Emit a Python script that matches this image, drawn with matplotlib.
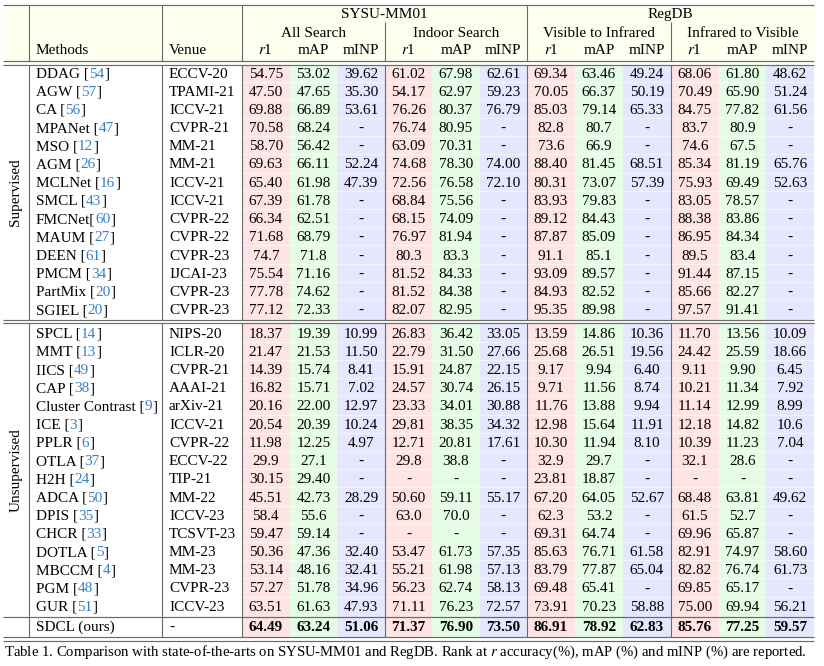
import matplotlib
matplotlib.use('Agg')
import matplotlib.pyplot as plt
from matplotlib.patches import Rectangle

plt.rcParams['font.family'] = ['Liberation Serif', 'DejaVu Serif']
plt.rcParams['mathtext.fontset'] = 'stix'

# ---------------- data ----------------
datasets = ["SYSU-MM01", "RegDB"]
settings = ["All Search", "Indoor Search", "Visible to Infrared", "Infrared to Visible"]
metrics = ["$r$1", "mAP", "mINP"]
groups = ["Supervised", "Unsupervised"]

sup_methods = ["DDAG", "AGW", "CA", "MPANet", "MSO", "AGM", "MCLNet", "SMCL",
               "FMCNet", "MAUM", "DEEN", "PMCM", "PartMix", "SGIEL"]
sup_refs = ["54", "57", "56", "47", "12", "26", "16", "43", "60", "27", "61", "34", "20", "20"]
sup_venues = ["ECCV-20", "TPAMI-21", "ICCV-21", "CVPR-21", "MM-21", "MM-21", "ICCV-21",
              "ICCV-21", "CVPR-22", "CVPR-22", "CVPR-23", "IJCAI-23", "CVPR-23", "CVPR-23"]

sup_sysu_all = [["54.75", "53.02", "39.62"], ["47.50", "47.65", "35.30"], ["69.88", "66.89", "53.61"],
                ["70.58", "68.24", "-"], ["58.70", "56.42", "-"], ["69.63", "66.11", "52.24"],
                ["65.40", "61.98", "47.39"], ["67.39", "61.78", "-"], ["66.34", "62.51", "-"],
                ["71.68", "68.79", "-"], ["74.7", "71.8", "-"], ["75.54", "71.16", "-"],
                ["77.78", "74.62", "-"], ["77.12", "72.33", "-"]]
sup_sysu_indoor = [["61.02", "67.98", "62.61"], ["54.17", "62.97", "59.23"], ["76.26", "80.37", "76.79"],
                   ["76.74", "80.95", "-"], ["63.09", "70.31", "-"], ["74.68", "78.30", "74.00"],
                   ["72.56", "76.58", "72.10"], ["68.84", "75.56", "-"], ["68.15", "74.09", "-"],
                   ["76.97", "81.94", "-"], ["80.3", "83.3", "-"], ["81.52", "84.33", "-"],
                   ["81.52", "84.38", "-"], ["82.07", "82.95", "-"]]
sup_regdb_v2i = [["69.34", "63.46", "49.24"], ["70.05", "66.37", "50.19"], ["85.03", "79.14", "65.33"],
                 ["82.8", "80.7", "-"], ["73.6", "66.9", "-"], ["88.40", "81.45", "68.51"],
                 ["80.31", "73.07", "57.39"], ["83.93", "79.83", "-"], ["89.12", "84.43", "-"],
                 ["87.87", "85.09", "-"], ["91.1", "85.1", "-"], ["93.09", "89.57", "-"],
                 ["84.93", "82.52", "-"], ["95.35", "89.98", "-"]]
sup_regdb_i2v = [["68.06", "61.80", "48.62"], ["70.49", "65.90", "51.24"], ["84.75", "77.82", "61.56"],
                 ["83.7", "80.9", "-"], ["74.6", "67.5", "-"], ["85.34", "81.19", "65.76"],
                 ["75.93", "69.49", "52.63"], ["83.05", "78.57", "-"], ["88.38", "83.86", "-"],
                 ["86.95", "84.34", "-"], ["89.5", "83.4", "-"], ["91.44", "87.15", "-"],
                 ["85.66", "82.27", "-"], ["97.57", "91.41", "-"]]

uns_methods = ["SPCL", "MMT", "IICS", "CAP", "Cluster Contrast", "ICE", "PPLR", "OTLA",
               "H2H", "ADCA", "DPIS", "CHCR", "DOTLA", "MBCCM", "PGM", "GUR"]
uns_refs = ["14", "13", "49", "38", "9", "3", "6", "37", "24", "50", "35", "33", "5", "4", "48", "51"]
uns_venues = ["NIPS-20", "ICLR-20", "CVPR-21", "AAAI-21", "arXiv-21", "ICCV-21", "CVPR-22",
              "ECCV-22", "TIP-21", "MM-22", "ICCV-23", "TCSVT-23", "MM-23", "MM-23", "CVPR-23", "ICCV-23"]

uns_sysu_all = [["18.37", "19.39", "10.99"], ["21.47", "21.53", "11.50"], ["14.39", "15.74", "8.41"],
                ["16.82", "15.71", "7.02"], ["20.16", "22.00", "12.97"], ["20.54", "20.39", "10.24"],
                ["11.98", "12.25", "4.97"], ["29.9", "27.1", "-"], ["30.15", "29.40", "-"],
                ["45.51", "42.73", "28.29"], ["58.4", "55.6", "-"], ["59.47", "59.14", "-"],
                ["50.36", "47.36", "32.40"], ["53.14", "48.16", "32.41"], ["57.27", "51.78", "34.96"],
                ["63.51", "61.63", "47.93"]]
uns_sysu_indoor = [["26.83", "36.42", "33.05"], ["22.79", "31.50", "27.66"], ["15.91", "24.87", "22.15"],
                   ["24.57", "30.74", "26.15"], ["23.33", "34.01", "30.88"], ["29.81", "38.35", "34.32"],
                   ["12.71", "20.81", "17.61"], ["29.8", "38.8", "-"], ["-", "-", "-"],
                   ["50.60", "59.11", "55.17"], ["63.0", "70.0", "-"], ["-", "-", "-"],
                   ["53.47", "61.73", "57.35"], ["55.21", "61.98", "57.13"], ["56.23", "62.74", "58.13"],
                   ["71.11", "76.23", "72.57"]]
uns_regdb_v2i = [["13.59", "14.86", "10.36"], ["25.68", "26.51", "19.56"], ["9.17", "9.94", "6.40"],
                 ["9.71", "11.56", "8.74"], ["11.76", "13.88", "9.94"], ["12.98", "15.64", "11.91"],
                 ["10.30", "11.94", "8.10"], ["32.9", "29.7", "-"], ["23.81", "18.87", "-"],
                 ["67.20", "64.05", "52.67"], ["62.3", "53.2", "-"], ["69.31", "64.74", "-"],
                 ["85.63", "76.71", "61.58"], ["83.79", "77.87", "65.04"], ["69.48", "65.41", "-"],
                 ["73.91", "70.23", "58.88"]]
uns_regdb_i2v = [["11.70", "13.56", "10.09"], ["24.42", "25.59", "18.66"], ["9.11", "9.90", "6.45"],
                 ["10.21", "11.34", "7.92"], ["11.14", "12.99", "8.99"], ["12.18", "14.82", "10.6"],
                 ["10.39", "11.23", "7.04"], ["32.1", "28.6", "-"], ["-", "-", "-"],
                 ["68.48", "63.81", "49.62"], ["61.5", "52.7", "-"], ["69.96", "65.87", "-"],
                 ["82.91", "74.97", "58.60"], ["82.82", "76.74", "61.73"], ["69.85", "65.17", "-"],
                 ["75.00", "69.94", "56.21"]]

ours_method = "SDCL (ours)"
ours_venue = "-"
ours_sysu_all = ["64.49", "63.24", "51.06"]
ours_sysu_indoor = ["71.37", "76.90", "73.50"]
ours_regdb_v2i = ["86.91", "78.92", "62.83"]
ours_regdb_i2v = ["85.76", "77.25", "59.57"]

caption = ("Table 1. Comparison with state-of-the-arts on SYSU-MM01 and RegDB. "
           "Rank at $r$ accuracy(%), mAP (%) and mINP (%) are reported.")

# ---------------- layout / style ----------------
W, H = 824, 666
FS = 11
LINE = '#6a6a6a'
REF = '#3a80c8'
HEAD_BG = '#fffff0'
CELL_BG = ['#ffe4e4', '#e4fde4', '#e6e6ff']

X_L, X_R = 3, 814
V_LINES_FULL = [29, 162, 242, 527]
V_LINES_SUB = [385, 671]
SET_EDGES = [242, 385, 527, 671, 814]
X_METHOD, X_VENUE, X_GROUP = 36, 169, 16

Y_TOP = 4.5
HDR_Y = [12.7, 31.7, 49.3]
HDR_D1, HDR_D2 = 61.0, 64.5
SUP_TOP, SUP_BOT = 64.5, 319.5
MID_D1, MID_D2 = 319.5, 323.0
UNS_TOP, UNS_BOT = 323.0, 617.0
OURS_BOT = 637.0
BOT_D2 = 640.5
ROW_H = 18.2
SUP_C0 = 72.5
UNS_C0 = 332.7
OURS_C = 625.7
CAP_Y = 650.5
BASE = 5.0  # baseline offset below visual text centre

fig = plt.figure(figsize=(W / 100, H / 100), dpi=100)
ax = fig.add_axes([0, 0, 1, 1])
ax.set_xlim(0, W)
ax.set_ylim(H, 0)
ax.axis('off')
renderer = fig.canvas.get_renderer()

# header background
ax.add_patch(Rectangle((X_L, Y_TOP), X_R - X_L, HDR_D1 - Y_TOP, facecolor=HEAD_BG, edgecolor='none', zorder=0))

sup_sets = [sup_sysu_all, sup_sysu_indoor, sup_regdb_v2i, sup_regdb_i2v]
uns_sets = [uns_sysu_all, uns_sysu_indoor, uns_regdb_v2i, uns_regdb_i2v]
ours_sets = [ours_sysu_all, ours_sysu_indoor, ours_regdb_v2i, ours_regdb_i2v]

blocks = [
    (SUP_TOP, SUP_BOT, [SUP_C0 + i * ROW_H for i in range(len(sup_methods))]),
    (UNS_TOP, UNS_BOT, [UNS_C0 + i * ROW_H for i in range(len(uns_methods))]),
    (UNS_BOT, OURS_BOT, [OURS_C]),
]

# coloured metric columns
for (top, bot, centres) in blocks:
    for g in range(4):
        x0, x1 = SET_EDGES[g], SET_EDGES[g + 1]
        w = (x1 - x0) / 3
        for k in range(3):
            ax.add_patch(Rectangle((x0 + k * w, top), w, bot - top, facecolor=CELL_BG[k],
                                   edgecolor='none', zorder=0))
    for a, b in zip(centres[:-1], centres[1:]):
        ym = (a + b) / 2
        ax.plot([SET_EDGES[0], SET_EDGES[-1]], [ym, ym], color='white', lw=0.5, alpha=0.8, zorder=1)

# horizontal rules
for y in [Y_TOP, HDR_D1, HDR_D2, MID_D1, MID_D2, UNS_BOT, OURS_BOT, BOT_D2]:
    ax.plot([X_L, X_R], [y, y], color=LINE, lw=0.85, zorder=3, solid_capstyle='butt')

# vertical rules
segments = [(HDR_D1, Y_TOP), (SUP_TOP, SUP_BOT), (MID_D2, OURS_BOT)]
for x in V_LINES_FULL:
    for (a, b) in segments:
        ax.plot([x, x], [a, b], color=LINE, lw=0.8, zorder=3, solid_capstyle='butt')
for x in V_LINES_SUB:
    for (a, b) in [(HDR_D1, 22.0), (SUP_TOP, SUP_BOT), (MID_D2, OURS_BOT)]:
        ax.plot([x, x], [a, b], color=LINE, lw=0.8, zorder=3, solid_capstyle='butt')


def txt(x, yc, s, ha='center', **kw):
    return ax.text(x, yc + BASE, s, ha=ha, va='baseline', fontsize=FS, zorder=4, **kw)


def width(s):
    t = ax.text(0, 0, s, fontsize=FS)
    w = t.get_window_extent(renderer).width
    t.remove()
    return w


# header texts
txt((SET_EDGES[0] + SET_EDGES[2]) / 2, HDR_Y[0], datasets[0])
txt((SET_EDGES[2] + SET_EDGES[4]) / 2, HDR_Y[0], datasets[1])
for g in range(4):
    txt((SET_EDGES[g] + SET_EDGES[g + 1]) / 2, HDR_Y[1], settings[g])
    w = (SET_EDGES[g + 1] - SET_EDGES[g]) / 3
    for k in range(3):
        txt(SET_EDGES[g] + (k + 0.5) * w, HDR_Y[2], metrics[k])
txt(X_METHOD, HDR_Y[2], "Methods", ha='left')
txt(X_VENUE, HDR_Y[2], "Venue", ha='left')


def method_label(yc, name, ref):
    if ref is None:
        txt(X_METHOD, yc, name, ha='left')
        return
    sep = "[" if name == "FMCNet" else " ["
    pieces = [(name + sep, 'black'), (ref, REF), ("]", 'black')]
    full = "".join(p for p, _ in pieces)
    wf = width(full)
    for i, (piece, col) in enumerate(pieces):
        rest = "".join(p for p, _ in pieces[i:])
        x = X_METHOD + (0 if i == 0 else wf - width(rest))
        txt(x, yc, piece, ha='left', color=col)


def value_row(yc, sets, row, bold=False):
    for g in range(4):
        w = (SET_EDGES[g + 1] - SET_EDGES[g]) / 3
        vals = sets[g][row] if row is not None else sets[g]
        for k in range(3):
            txt(SET_EDGES[g] + (k + 0.5) * w, yc, vals[k], fontweight='bold' if bold else 'normal')


for i, c in enumerate(blocks[0][2]):
    method_label(c, sup_methods[i], sup_refs[i])
    txt(X_VENUE, c, sup_venues[i], ha='left')
    value_row(c, sup_sets, i)
for i, c in enumerate(blocks[1][2]):
    method_label(c, uns_methods[i], uns_refs[i])
    txt(X_VENUE, c, uns_venues[i], ha='left')
    value_row(c, uns_sets, i)
method_label(OURS_C, ours_method, None)
txt(X_VENUE, OURS_C, ours_venue, ha='left')
value_row(OURS_C, ours_sets, None, bold=True)

# group labels
ax.text(X_GROUP, (SUP_TOP + SUP_BOT) / 2, groups[0], rotation=90, ha='center', va='center', fontsize=FS)
ax.text(X_GROUP, (UNS_TOP + UNS_BOT) / 2, groups[1], rotation=90, ha='center', va='center', fontsize=FS)

# caption
ax.text(4, CAP_Y + BASE, caption, ha='left', va='baseline', fontsize=FS * 0.97)

fig.savefig('out.png', dpi=100)
